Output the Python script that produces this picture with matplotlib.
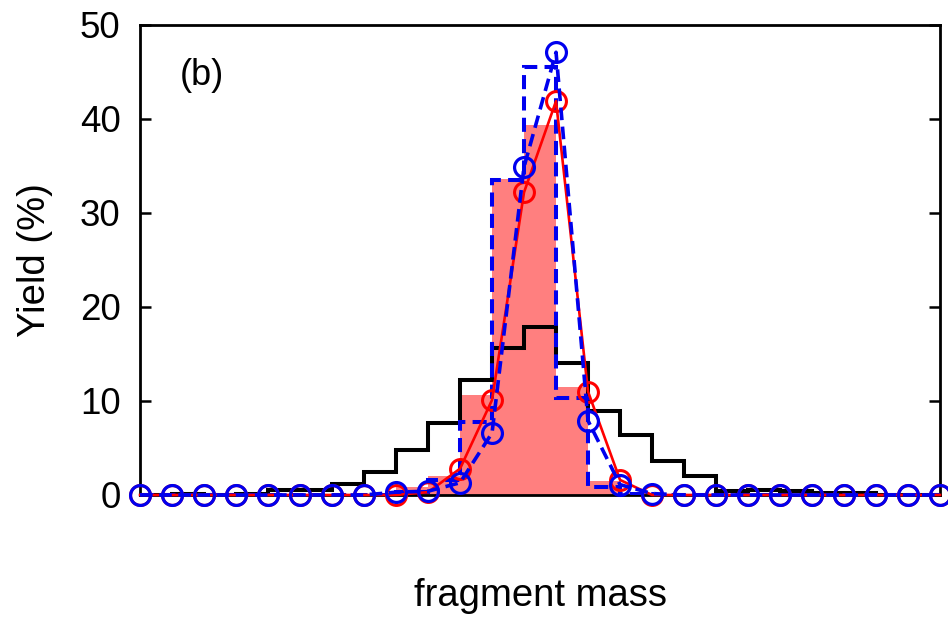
import numpy as np
import matplotlib
matplotlib.use('Agg')
import matplotlib.pyplot as plt

plt.rcParams['font.family'] = ['Liberation Sans', 'DejaVu Sans']

# fragment index (points) and bin edges
x = np.arange(0, 26)
edges = np.arange(0, 26)

# black histogram (one value per bin [k, k+1])
black = [0, 0.1, 0, 0.1, 0.5, 0.5, 1.2, 2.4, 4.8, 7.7, 12.2, 15.6, 17.9,
         14.0, 8.9, 6.4, 3.6, 2.0, 0.4, 0.5, 0.4, 0.2, 0.2, 0, 0]
# pink filled histogram
pink = [0, 0, 0, 0, 0, 0, 0, 0, 0.9, 2.0, 10.6, 33.6, 39.4,
        11.5, 1.5, 0.2, 0, 0, 0, 0, 0, 0, 0, 0, 0]
# blue dashed histogram
blue_hist = [0, 0, 0, 0, 0, 0, 0, 0, 0.3, 1.6, 7.8, 33.5, 45.5,
             10.3, 0.8, 0.1, 0, 0, 0, 0, 0, 0, 0, 0, 0]
# red points
red_pts = [0, 0, 0, 0, 0, 0, 0, 0, 0, 0.3, 2.8, 10.1, 32.2, 41.9,
           11.0, 1.6, 0, 0, 0, 0, 0, 0, 0, 0, 0, 0]
# blue points
blue_pts = [0, 0, 0, 0, 0, 0, 0, 0, 0.3, 0.4, 1.3, 6.6, 34.9, 47.1,
            7.9, 1.1, 0.15, 0, 0, 0, 0, 0, 0, 0, 0, 0]

fig = plt.figure(figsize=(9.48, 6.23), dpi=100)
ax = fig.add_axes([0.1477, 0.2055, 0.8439, 0.7544])

dash = (0, (3.5, 1.8))
ax.bar(edges[:-1], pink, width=1, align='edge', color='#ff7f7f', lw=0, zorder=1)
ax.stairs(black, edges, color='black', lw=2.9, zorder=2)
ax.stairs(blue_hist, edges, color='#0000ee', lw=2.9, ls=dash, zorder=3)
ax.plot(x, red_pts, color='red', lw=1.9, marker='o', ms=14.3, mfc='none',
        mec='red', mew=2.2, clip_on=False, zorder=4)
ax.plot(x, blue_pts, color='#0000ee', lw=2.6, ls=dash, marker='o', ms=14.3,
        mfc='none', mec='#0000ee', mew=2.3, clip_on=False, zorder=5)

ax.set_xlim(0, 25)
ax.set_ylim(0, 50)
ax.set_yticks([0, 10, 20, 30, 40, 50])
ax.set_xticks([])
ax.tick_params(axis='y', direction='in', length=8, width=1.8, right=True,
               labelsize=26.5, pad=14)
for s in ax.spines.values():
    s.set_linewidth(2.0)

ax.set_ylabel('Yield (%)', fontsize=27.5, labelpad=19)
ax.set_xlabel('fragment mass', fontsize=27.5, labelpad=60)
ax.text(0.05, 0.893, '(b)', transform=ax.transAxes, fontsize=26, va='center')

fig.savefig('out.png', dpi=100)
